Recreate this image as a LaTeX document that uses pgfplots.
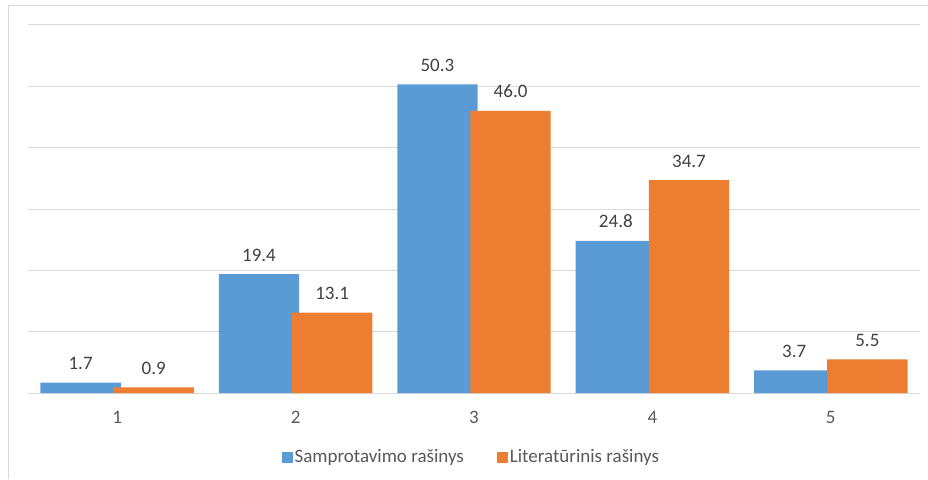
\documentclass[border=0pt]{standalone}
\usepackage{fontspec}
\setmainfont{Carlito}
\usepackage{pgfplots}
\pgfplotsset{compat=1.18}
\definecolor{cblue}{HTML}{5B9BD5}
\definecolor{corange}{HTML}{ED7D31}
\definecolor{gridc}{HTML}{D9D9D9}
\definecolor{txt}{HTML}{595959}
\definecolor{lbl}{HTML}{404040}
\begin{document}
\fontsize{19}{22}\selectfont
\begin{tikzpicture}
\useasboundingbox (0,0) rectangle (928pt,479pt);
\draw[gridc, line width=1pt] (8pt,0) -- (8pt,473pt) -- (928pt,473pt);
\begin{axis}[
  at={(28pt,86pt)}, anchor=south west,
  scale only axis, width=892pt, height=368pt,
  xmin=0.5, xmax=5.5, ymin=0, ymax=60,
  axis line style={draw=none},
  ytick={0,10,...,60}, yticklabels={},
  ymajorgrids, grid style={gridc, line width=1pt},
  xtick={1,2,3,4,5}, xticklabels={1,2,3,4,5},
  major tick length=0pt,
  xticklabel style={anchor=base, yshift=-30pt, text=txt, font=\fontsize{19}{22}\selectfont},
  ybar, bar width=0.45,
  nodes near coords,
  every node near coord/.append style={anchor=base, yshift=13pt, text=lbl, font=\fontsize{19}{22}\selectfont},
  /pgf/number format/fixed,
  /pgf/number format/fixed zerofill,
  /pgf/number format/precision=1,
  /pgf/number format/assume math mode=true,
  legend style={at={(0.497,-0.174)}, anchor=center, draw=none, legend columns=2,
    font=\fontsize{19}{22}\selectfont, text=txt,
    /tikz/every even column/.append style={column sep=31pt}},
  legend image code/.code={\fill[#1] (0pt,-5.5pt) rectangle (11pt,5.5pt);},
]
\addplot[fill=cblue, draw=none, bar shift=-0.205] coordinates {(1,1.7) (2,19.4) (3,50.3) (4,24.8) (5,3.7)};
\addplot[fill=corange, draw=none, bar shift=0.205] coordinates {(1,0.9) (2,13.1) (3,46.0) (4,34.7) (5,5.5)};
\legend{Samprotavimo rašinys, Literatūrinis rašinys}
\end{axis}
\end{tikzpicture}
\end{document}
